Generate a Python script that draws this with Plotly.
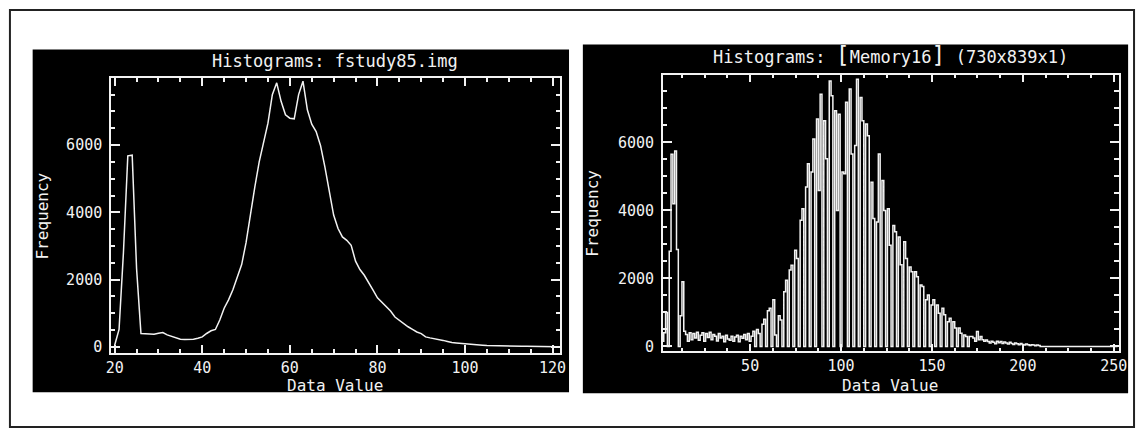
import plotly.graph_objects as go

W, H = 1146, 433

# Left histogram: fstudy85.img (line plot, one point per data value)
left_values = list(range(20, 122))
left_freq = [
    50, 520, 2800, 5680, 5700, 2330, 400, 390, 380, 375,          # 20-29
    410, 430, 360, 310, 260, 230, 220, 225, 230, 260,              # 30-39
    300, 400, 480, 520, 800, 1150, 1400, 1700, 2050, 2450,         # 40-49
    3100, 3950, 4750, 5500, 6050, 6650, 7500, 7850, 7300, 6900,    # 50-59
    6800, 6780, 7500, 7900, 7050, 6620, 6400, 5990, 5350, 4600,    # 60-69
    3920, 3520, 3270, 3170, 3020, 2550, 2300, 2130, 1930, 1690,    # 70-79
    1460, 1340, 1220, 1070, 890, 790, 690, 600, 525, 445,          # 80-89
    395, 300, 270, 250, 225, 195, 165, 130, 120, 105,              # 90-99
    90, 80, 70, 60, 50, 40, 35, 32, 30, 28,                        # 100-109
    26, 24, 22, 20, 18, 16, 14, 12, 10, 9,                         # 110-119
    8, 7,                                                          # 120-121
]

# Right histogram: [Memory16] (stepped, one bin per data value)
right_values = list(range(2, 253))
right_freq = [
    150, 400, 1000, 0, 2800, 5650, 4200, 5750, 2850, 0,            # 2-11
    900, 1900, 450, 350, 150, 400, 200, 380, 250, 420,             # 12-21
    180, 330, 400, 150, 380, 260, 420, 200, 350, 300,              # 22-31
    160, 380, 250, 300, 140, 330, 220, 180, 300, 150,              # 32-41
    280, 330, 140, 300, 240, 350, 200, 380, 150, 300,              # 42-51
    450, 0, 500, 380, 0, 650, 800, 0, 1050, 1120,                  # 52-61
    0, 1370, 340, 0, 900, 780, 0, 1610, 1950, 0,                   # 62-71
    2250, 2390, 0, 2830, 2590, 0, 3710, 4050, 0, 4690,             # 72-81
    5370, 0, 5130, 6100, 0, 6690, 4590, 7420, 0, 6640,             # 82-91
    5520, 0, 7810, 7370, 0, 6930, 4000, 6830, 0, 5130,             # 92-101
    5080, 7180, 0, 7570, 5660, 0, 5910, 7860, 0, 7320,             # 102-111
    6640, 0, 6540, 6200, 0, 4830, 3760, 0, 3660, 5660,             # 112-121
    0, 4880, 4000, 0, 4050, 2980, 0, 3560, 3370, 0,                # 122-131
    3220, 2400, 0, 3080, 2590, 0, 2340, 2200, 0, 2200,             # 132-141
    2050, 0, 1810, 1760, 0, 1370, 1510, 0, 1220, 1370,             # 142-151
    0, 1220, 980, 0, 1120, 930, 0, 730, 830, 0,                    # 152-161
    730, 540, 0, 540, 390, 0, 340, 290, 0, 290,                    # 162-171
    290, 250, 150, 440, 200, 290, 200, 150, 190, 146,              # 172-181
    100, 150, 120, 80, 150, 110, 146, 90, 130, 100,                # 182-191
    70, 120, 90, 60, 100, 80, 50, 90, 60, 40,                      # 192-201
    70, 50, 30, 50, 40, 20, 40, 30, 0, 0,                          # 202-211
    0, 0, 0, 0, 0, 0, 0, 0, 0, 0,                                  # 212-221
    0, 0, 0, 0, 0, 0, 0, 0, 0, 0,                                  # 222-231
    0, 0, 0, 0, 0, 0, 0, 0, 0, 0,                                  # 232-241
    0, 0, 0, 0, 0, 0, 0, 0, 0, 0,                                  # 242-251
    0,                                                             # 252
]

FG = "#f2f2f2"
TICK_FONT = dict(family="DejaVu Sans Mono", size=15, color=FG)
LABEL_FONT = dict(family="DejaVu Sans Mono", size=16, color=FG)
TITLE_FONT = dict(family="DejaVu Sans Mono", size=17, color=FG)


def px(x):
    return x / W


def py(y):
    return 1 - y / H


def axis(rng, dtick, minor_dtick, dom, anchor, major_len=8, minor_len=4, standoff=0):
    return dict(
        range=rng, domain=dom, anchor=anchor,
        showgrid=False, zeroline=False,
        showline=True, linecolor=FG, linewidth=1.5, mirror="ticks",
        ticks="inside", ticklen=major_len, tickwidth=1.5, tickcolor=FG,
        tick0=0, dtick=dtick, ticklabelstandoff=standoff,
        minor=dict(tick0=0, dtick=minor_dtick, ticks="inside", ticklen=minor_len,
                   tickwidth=1.5, tickcolor=FG, showgrid=False),
        tickfont=TICK_FONT, fixedrange=True,
    )


fig = go.Figure()
fig.add_trace(go.Scatter(
    x=left_values, y=left_freq, mode="lines",
    line=dict(color=FG, width=1.5),
    xaxis="x", yaxis="y", showlegend=False, hoverinfo="skip",
))
fig.add_trace(go.Scatter(
    x=right_values, y=right_freq, mode="lines",
    line=dict(color=FG, width=1.5, shape="hvh"),
    xaxis="x2", yaxis="y2", showlegend=False, hoverinfo="skip",
))

fig.update_layout(
    width=W, height=H,
    margin=dict(l=0, r=0, t=0, b=0),
    paper_bgcolor="white", plot_bgcolor="black",
    showlegend=False,
    xaxis=axis([19.16, 121.65], 20, 5, [px(107.3), px(561.7)], "y"),
    yaxis=axis([-180, 7995], 2000, 500, [py(356.3), py(78.7)], "x", 9, 4.5, 4),
    xaxis2=axis([2.0, 252.6], 50, 12.5, [px(666), px(1127.3)], "y2"),
    yaxis2=axis([-146, 7995], 2000, 500, [py(354.7), py(75.3)], "x2", 9, 4.5, 4),
)

shapes = [
    # outer frame
    dict(type="rect", xref="paper", yref="paper",
         x0=px(5), x1=px(1143), y0=py(431), y1=py(10),
         line=dict(color="#222222", width=2), layer="below"),
    # black panels behind each plot
    dict(type="rect", xref="paper", yref="paper",
         x0=px(28), x1=px(571), y0=py(396), y1=py(50),
         fillcolor="black", line=dict(width=0), layer="below"),
    dict(type="rect", xref="paper", yref="paper",
         x0=px(585), x1=px(1137), y0=py(397), y1=py(45),
         fillcolor="black", line=dict(width=0), layer="below"),
]
fig.update_layout(shapes=shapes)

annotations = [
    dict(text="Histograms: fstudy85.img", x=px(334), y=py(62), font=TITLE_FONT),
    dict(text='Histograms: <span style="font-size:23px">[</span>Memory16'
              '<span style="font-size:23px">]</span> (730x839x1)',
         x=px(896), y=py(56), font=TITLE_FONT),
    dict(text="Data Value", x=px(334), y=py(389), font=LABEL_FONT),
    dict(text="Data Value", x=px(896), y=py(389), font=LABEL_FONT),
    dict(text="Frequency", x=px(38), y=py(218), textangle=-90, font=LABEL_FONT),
    dict(text="Frequency", x=px(594), y=py(215), textangle=-90, font=LABEL_FONT),
]
for a in annotations:
    a.update(xref="paper", yref="paper", showarrow=False,
             xanchor="center", yanchor="middle")
fig.update_layout(annotations=annotations)

fig.write_html("out.html")
